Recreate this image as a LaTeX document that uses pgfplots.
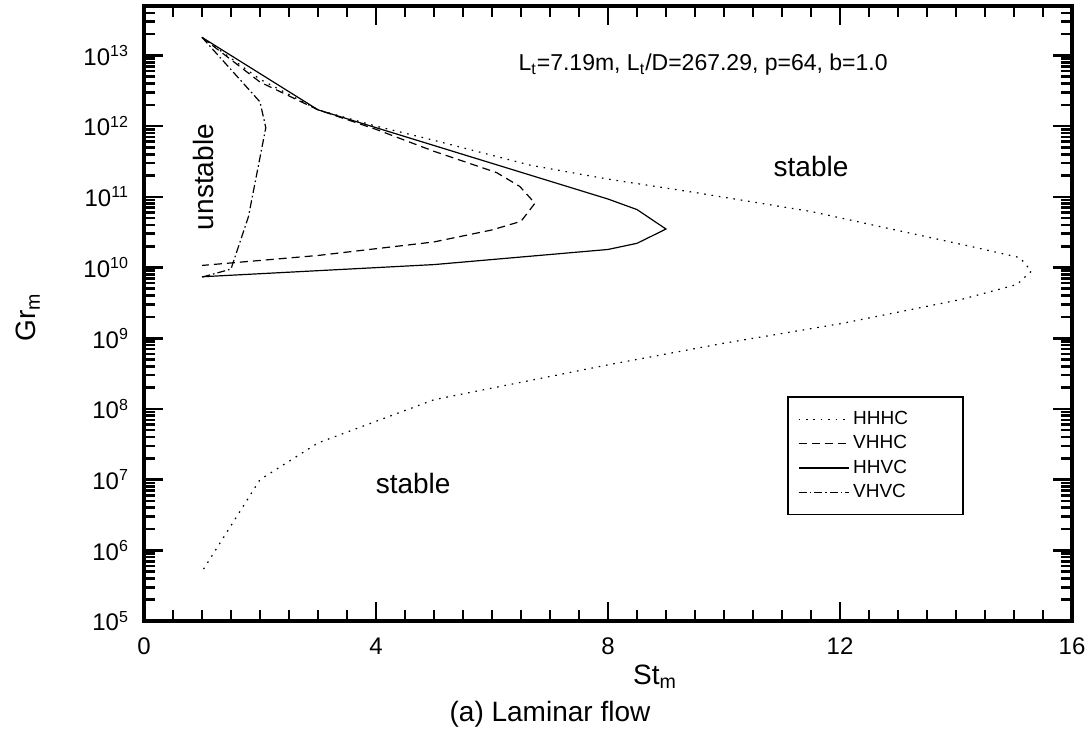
\documentclass[border=0pt]{standalone}
\usepackage{fontspec}
\setmainfont{Liberation Sans}
\usepackage{pgfplots}
\pgfplotsset{compat=1.18}
\begin{document}
\begin{tikzpicture}
\useasboundingbox (-72pt,-54.5pt) rectangle (473.5pt,310.5pt);
\begin{axis}[
  at={(0pt,0pt)}, anchor=south west,
  scale only axis, width=464pt, height=307.5pt,
  ymode=log, xmin=0, xmax=16, ymin=1e5, ymax=5e13,
  xtick={0,4,8,12,16}, xticklabels={0,4,8,12,16},
  minor x tick num=7,
  ytick={1e5,1e6,1e7,1e8,1e9,1e10,1e11,1e12,1e13},
  yticklabels={10\textsuperscript{5},10\textsuperscript{6},10\textsuperscript{7},10\textsuperscript{8},10\textsuperscript{9},10\textsuperscript{10},10\textsuperscript{11},10\textsuperscript{12},10\textsuperscript{13}},
  minor ytick={2e5,3e5,4e5,5e5,6e5,7e5,8e5,9e5,
    2e6,3e6,4e6,5e6,6e6,7e6,8e6,9e6,
    2e7,3e7,4e7,5e7,6e7,7e7,8e7,9e7,
    2e8,3e8,4e8,5e8,6e8,7e8,8e8,9e8,
    2e9,3e9,4e9,5e9,6e9,7e9,8e9,9e9,
    2e10,3e10,4e10,5e10,6e10,7e10,8e10,9e10,
    2e11,3e11,4e11,5e11,6e11,7e11,8e11,9e11,
    2e12,3e12,4e12,5e12,6e12,7e12,8e12,9e12,
    2e13,3e13,4e13},
  axis line style={line width=1.6pt},
  every tick/.style={black, line width=1.3pt},
  major tick length=9.5pt, minor tick length=5.5pt,
  tick align=inside,
  tick label style={font=\fontsize{12}{13}\selectfont},
  xticklabel style={yshift=-5pt},
  yticklabel style={xshift=-4pt},
  legend style={at={(0.693,0.172)}, anchor=south west, draw=black, line width=0.85pt,
    inner xsep=5pt, inner ysep=5pt, font=\fontsize{9.5}{11}\selectfont, row sep=0pt},
  legend cell align=left,
  legend image code/.code={\draw[#1] (0pt,0pt) -- (25pt,0pt);},
]
\addplot[black, line width=0.6pt, dash pattern=on 0.8pt off 2.9pt] coordinates {
(1,1.8e13) (2,4.6e12) (3,1.7e12) (4,1e12) (5,6.3e11) (6.66,2.8e11) (8,1.78e11) (9.5,1.15e11)
(11.5,6.2e10) (14.3,1.95e10) (15.1,1.38e10) (15.3,8.9e9) (15.05,5.75e9) (14.1,3.55e9)
(12,1.6e9) (10,8.5e8) (8,4.2e8) (5,1.35e8) (3,3.3e7) (2,1e7) (1,5e5)};
\addlegendentry{\makebox[48pt][l]{HHHC}}
\addplot[black, line width=0.6pt, dash pattern=on 4pt off 2.5pt] coordinates {
(1,1.8e13) (2,4.2e12) (3,1.7e12) (4,9e11) (5,4.4e11) (6.08,2.2e11) (6.48,1.4e11) (6.74,8.1e10)
(6.5,4.5e10) (6,3.4e10) (5,2.3e10) (3,1.48e10) (1,1.07e10)};
\addlegendentry{\makebox[48pt][l]{VHHC}}
\addplot[black, line width=0.6pt] coordinates {
(1,1.8e13) (3,1.7e12) (8,9.3e10) (8.5,6.6e10) (9,3.5e10) (8.5,2.2e10) (8,1.8e10) (5,1.1e10) (1,7.4e9)};
\addlegendentry{\makebox[48pt][l]{HHVC}}
\addplot[black, line width=0.6pt, dash pattern=on 4pt off 1.5pt on 0.8pt off 1.5pt] coordinates {
(1,1.8e13) (2.0,2.2e12) (2.1,9.5e11) (1.8,5.2e10) (1.5,9.5e9) (1.0,7.3e9)};
\addlegendentry{\makebox[48pt][l]{VHVC}}
\node[font=\fontsize{11.5}{13}\selectfont] at (axis cs:9.64,7.4e12) {L\textsubscript{t}=7.19m, L\textsubscript{t}/D=267.29, p=64, b=1.0};
\node[font=\fontsize{14}{16}\selectfont] at (axis cs:11.5,2.7e11) {stable};
\node[font=\fontsize{14}{16}\selectfont] at (axis cs:4.64,8.7e6) {stable};
\node[font=\fontsize{14}{16}\selectfont, rotate=90] at (axis cs:1.02,1.9e11) {unstable};
\end{axis}
\node[font=\fontsize{14}{16}\selectfont] at (255.5pt,-28pt) {St\textsubscript{m}};
\node[font=\fontsize{14}{16}\selectfont, rotate=90] at (-58pt,152pt) {Gr\textsubscript{m}};
\node[font=\fontsize{14}{16}\selectfont] at (203pt,-46.5pt) {(a) Laminar flow};
\end{tikzpicture}
\end{document}
